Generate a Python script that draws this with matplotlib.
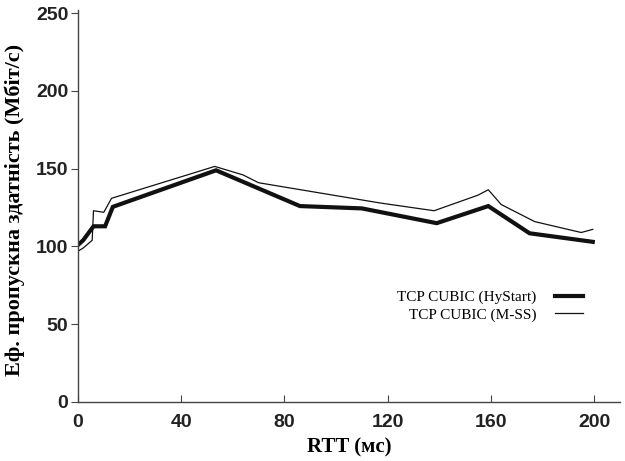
import matplotlib
matplotlib.use("Agg")
import matplotlib.pyplot as plt

hystart_x = [0, 2, 6, 10.5, 13.5, 53.5, 86, 110, 139, 159, 175, 199.5]
hystart_y = [101, 104, 113, 113, 125.5, 149, 126, 124.5, 115, 126, 108.5, 103]

mss_x = [0, 2, 5.5, 6, 10, 13, 53, 64, 70, 117, 138, 155, 159, 164, 177, 195, 199.5]
mss_y = [97, 99, 104, 123, 122, 131, 151.5, 146, 141, 128, 123, 133, 136.5, 127, 116, 109, 111]

x_ticks = [0, 40, 80, 120, 160, 200]
y_ticks = [0, 50, 100, 150, 200, 250]

fig = plt.figure(figsize=(6.25, 4.61), dpi=100)
ax = fig.add_axes([0.1248, 0.128, 0.867, 0.85])

ax.plot(hystart_x, hystart_y, color="#111111", lw=3.0, solid_joinstyle="miter",
        label="TCP CUBIC (HyStart)")
ax.plot(mss_x, mss_y, color="#111111", lw=0.9, label="TCP CUBIC (M-SS)")

ax.set_xlim(0, 210)
ax.set_ylim(0, 252)
ax.set_xticks(x_ticks)
ax.set_yticks(y_ticks)

for s in ["top", "right"]:
    ax.spines[s].set_visible(False)
for s in ["left", "bottom"]:
    ax.spines[s].set_color("#444444")
    ax.spines[s].set_linewidth(1.0)

ax.tick_params(axis="x", direction="in", length=5, color="#444444", pad=9)
ax.tick_params(axis="y", direction="out", length=5, color="#444444", pad=2)
for lab in ax.get_xticklabels() + ax.get_yticklabels():
    lab.set_fontfamily("Liberation Sans")
    lab.set_fontweight("bold")
    lab.set_fontsize(14)
    lab.set_color("#222222")

ax.set_xlabel("RTT (мс)", fontfamily="Liberation Serif", fontweight="bold",
              fontsize=15, labelpad=4)
ax.set_ylabel("Еф. пропускна здатність (Мбіт/с)", fontfamily="Liberation Serif",
              fontweight="bold", fontsize=16, labelpad=2)
ax.yaxis.set_label_coords(-0.097, 0.49)

leg = ax.legend(loc="upper right", bbox_to_anchor=(0.932, 0.285), frameon=False,
                markerfirst=False, prop={"family": "Liberation Serif", "size": 11},
                handlelength=1.85, labelspacing=0.25, handletextpad=1.2,
                borderpad=0, borderaxespad=0)

fig.savefig("out.png", dpi=100)
